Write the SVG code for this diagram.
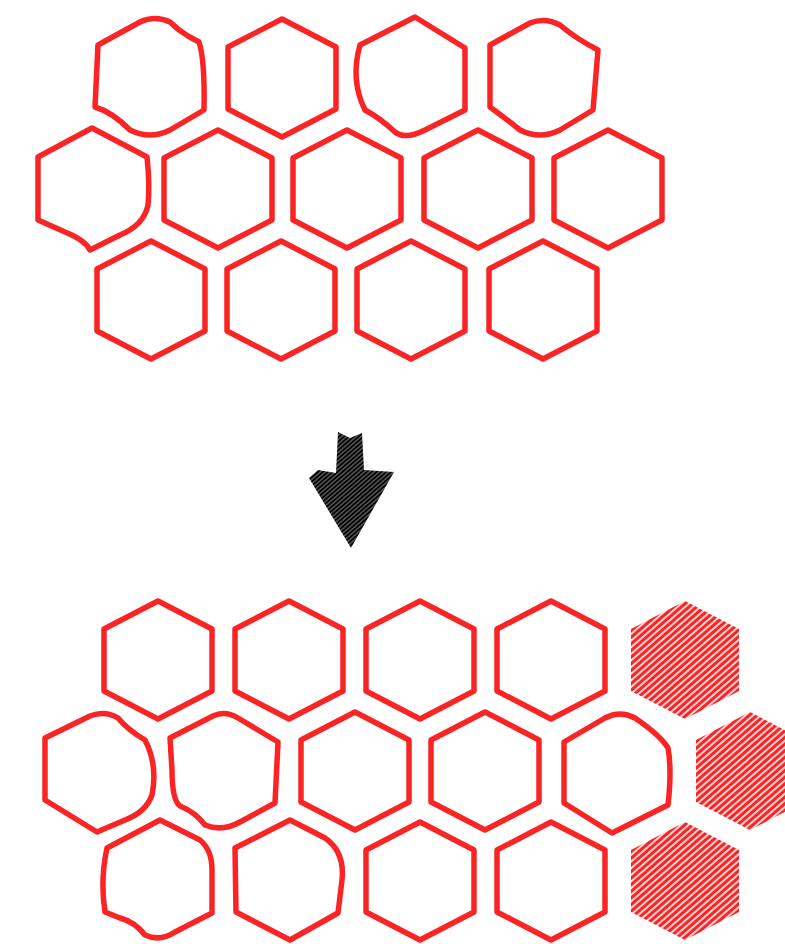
<svg xmlns="http://www.w3.org/2000/svg" width="785" height="944" viewBox="0 0 785 944">
<style>
.hex{fill:none;stroke:#fa2424;stroke-width:5.5;stroke-linejoin:round;stroke-linecap:round}
.hexfill{fill:url(#hachRed);stroke:none}
.arrow{fill:url(#hachBlack);stroke:none}
</style>
<defs>
<polygon id="hx" points="0,-59 54,-31 54,31 0,59 -54,31 -54,-31"/>
<pattern id="hachRed" patternUnits="userSpaceOnUse" width="12" height="5" patternTransform="rotate(-41)">
<line x1="-2" y1="2.5" x2="14" y2="2.5" stroke="#fa2424" stroke-width="3.4"/>
</pattern>
<pattern id="hachBlack" patternUnits="userSpaceOnUse" width="12" height="3.2" patternTransform="rotate(-41)">
<line x1="-2" y1="1.6" x2="14" y2="1.6" stroke="#000" stroke-width="2.7"/>
</pattern>
</defs>
<rect width="785" height="944" fill="#fff"/>
<g id="top-grid">
<g id="t-r1-c1"><path class="hex" d="M98,45 L140,22 Q155,15 170,22 Q178,30 188,36 L199,42 Q205,60 204,110 L170,130 Q150,140 130,130 Q112,112 95,107 Z"/></g>
<g id="t-r1-c2"><use href="#hx" class="hex" x="282" y="78"/></g>
<g id="t-r1-c3"><path class="hex" d="M360,45 L415,17 L465,48 L465,110 L425,130 Q405,140 395,132 Q380,118 365,110 Q350,80 360,45 Z"/></g>
<g id="t-r1-c4"><path class="hex" d="M490,45 L530,23 Q545,17 560,25 Q575,38 598,50 L593,110 L560,130 Q540,140 520,130 Q505,118 490,107 Z"/></g>
<g id="t-r2-c1"><path class="hex" d="M38,157 L92,128 L147,157 Q150,185 148,205 Q144,225 120,235 L90,250 Q85,240 65,232 L38,220 Z"/></g>
<g id="t-r2-c2"><use href="#hx" class="hex" x="218" y="189"/></g>
<g id="t-r2-c3"><use href="#hx" class="hex" x="347" y="189"/></g>
<g id="t-r2-c4"><use href="#hx" class="hex" x="478" y="189"/></g>
<g id="t-r2-c5"><use href="#hx" class="hex" x="608" y="189"/></g>
<g id="t-r3-c1"><use href="#hx" class="hex" x="151" y="300"/></g>
<g id="t-r3-c2"><use href="#hx" class="hex" x="281" y="300"/></g>
<g id="t-r3-c3"><use href="#hx" class="hex" x="411" y="300"/></g>
<g id="t-r3-c4"><use href="#hx" class="hex" x="543" y="300"/></g>
</g>
<g id="arrow">
<polygon class="arrow" points="338,432 350,438 362,433 364,470 394,472 351,548 309,478 318,470 336,473"/>
</g>
<g id="bottom-grid">
<g id="b-r1-c1"><use href="#hx" class="hex" x="158" y="660"/></g>
<g id="b-r1-c2"><use href="#hx" class="hex" x="289" y="660"/></g>
<g id="b-r1-c3"><use href="#hx" class="hex" x="420" y="660"/></g>
<g id="b-r1-c4"><use href="#hx" class="hex" x="551" y="660"/></g>
<g id="b-r1-c5"><use href="#hx" class="hexfill" x="685" y="660"/></g>
<g id="b-r2-c1"><path class="hex" d="M45,738 L90,716 Q105,710 118,718 Q128,730 145,740 Q158,765 152,795 Q146,812 125,820 L97,832 L45,800 Z"/></g>
<g id="b-r2-c2"><path class="hex" d="M170,738 L213,716 Q225,710 238,718 L278,742 L275,803 L240,822 Q222,832 205,825 Q195,812 180,806 Q172,800 172,770 Z"/></g>
<g id="b-r2-c3"><use href="#hx" class="hex" x="355" y="771"/></g>
<g id="b-r2-c4"><use href="#hx" class="hex" x="485" y="771"/></g>
<g id="b-r2-c5"><path class="hex" d="M564,742 L605,718 Q620,710 635,718 Q660,735 668,748 Q672,770 668,805 L612,833 L564,803 Z"/></g>
<g id="b-r2-c6"><use href="#hx" class="hexfill" x="750" y="771"/></g>
<g id="b-r3-c1"><path class="hex" d="M107,848 L160,820 L200,840 Q212,850 212,870 L212,913 L175,932 Q160,942 145,935 Q135,922 120,918 L105,912 Q100,880 107,848 Z"/></g>
<g id="b-r3-c2"><path class="hex" d="M235,848 L290,820 L325,838 Q345,852 342,880 L338,913 L290,940 L236,912 Z"/></g>
<g id="b-r3-c3"><use href="#hx" class="hex" x="420" y="881"/></g>
<g id="b-r3-c4"><use href="#hx" class="hex" x="551" y="881"/></g>
<g id="b-r3-c5"><use href="#hx" class="hexfill" x="685" y="881"/></g>
</g>
</svg>
